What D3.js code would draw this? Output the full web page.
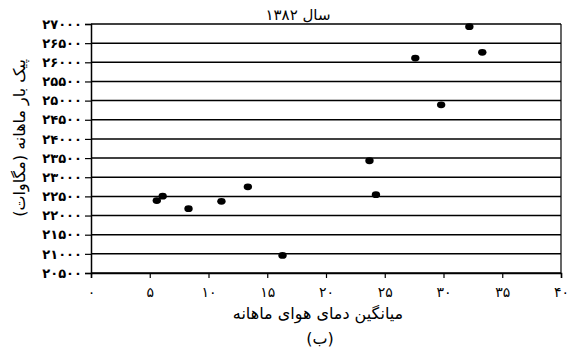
<!DOCTYPE html>
<html>
<head>
<meta charset="utf-8">
<script src="https://cdn.jsdelivr.net/npm/d3@7"></script>
<style>
body { margin: 0; background: #fff; }
text { font-family: "DejaVu Sans", sans-serif; fill: #000; }
</style>
</head>
<body>
<div id="chart"></div>
<script>
// mean monthly temperature vs monthly peak load, year 1382
var temps = [5.6, 6.1, 8.3, 11.1, 13.35, 16.3, 23.7, 24.25, 27.6, 29.8, 32.2, 33.3];
var peaks = [22390, 22505, 22180, 22370, 22750, 20960, 23430, 22545, 26110, 24890, 26930, 26260];
var xTicks = [0, 5, 10, 15, 20, 25, 30, 35, 40];
var yTicks = d3.range(20500, 27001, 500);

var fa = function(n) { return String(n).replace(/[0-9]/g, function(d){ return "۰۱۲۳۴۵۶۷۸۹"[+d]; }); };

var W = 569, H = 354;
var svg = d3.select("#chart").append("svg").attr("width", W).attr("height", H);

var x = d3.scaleLinear().domain([0, 40]).range([91, 561]);
var y = d3.scaleLinear().domain([20500, 27000]).range([273, 24]);

// horizontal grid
svg.append("g").selectAll("line").data(yTicks).enter().append("line")
  .attr("x1", x(0)).attr("x2", x(40))
  .attr("y1", function(d){ return y(d); }).attr("y2", function(d){ return y(d); })
  .style("stroke", "#000").style("stroke-width", 1.5);

// right border
svg.append("line").attr("x1", x(40)).attr("x2", x(40)).attr("y1", y(27000)).attr("y2", y(20500))
  .style("stroke", "#000").style("stroke-width", 1.2);

var yAxis = svg.append("g").attr("transform", "translate(" + x(0) + ",0)")
  .call(d3.axisLeft(y).tickValues(yTicks).tickSize(6).tickPadding(3).tickFormat(fa));
var xAxis = svg.append("g").attr("transform", "translate(0," + y(20500) + ")")
  .call(d3.axisBottom(x).tickValues(xTicks).tickSize(5).tickPadding(9).tickFormat(fa));

[yAxis, xAxis].forEach(function(a) {
  a.select(".domain").style("stroke", "#000").style("stroke-width", 1.5);
  a.selectAll(".tick line").style("stroke", "#000").style("stroke-width", 1.2);
  a.selectAll("text").style("font-family", "'DejaVu Sans', sans-serif").style("fill", "#000");
});
yAxis.selectAll("text").style("font-size", "13px").style("font-weight", "bold");
xAxis.selectAll("text").style("font-size", "14px");

// points
svg.append("g").selectAll("ellipse").data(temps).enter().append("ellipse")
  .attr("cx", function(d){ return x(d); })
  .attr("cy", function(d, i){ return y(peaks[i]); })
  .attr("rx", 4.2).attr("ry", 3.4)
  .style("fill", "#000");

svg.append("text").attr("x", 298).attr("y", 20).attr("text-anchor", "middle")
  .style("font-size", "15px").text("سال ۱۳۸۲");

svg.append("text").attr("x", 318).attr("y", 319).attr("text-anchor", "middle")
  .style("font-size", "16px").text("میانگین دمای هوای ماهانه");
svg.append("text").attr("x", 320).attr("y", 344).attr("text-anchor", "middle")
  .style("font-size", "16px").text("(ب)");

svg.append("text").attr("transform", "translate(25,138) rotate(-90)").attr("text-anchor", "middle")
  .style("font-size", "16px").text("پیک بار ماهانه (مگاوات)");
</script>
</body>
</html>
